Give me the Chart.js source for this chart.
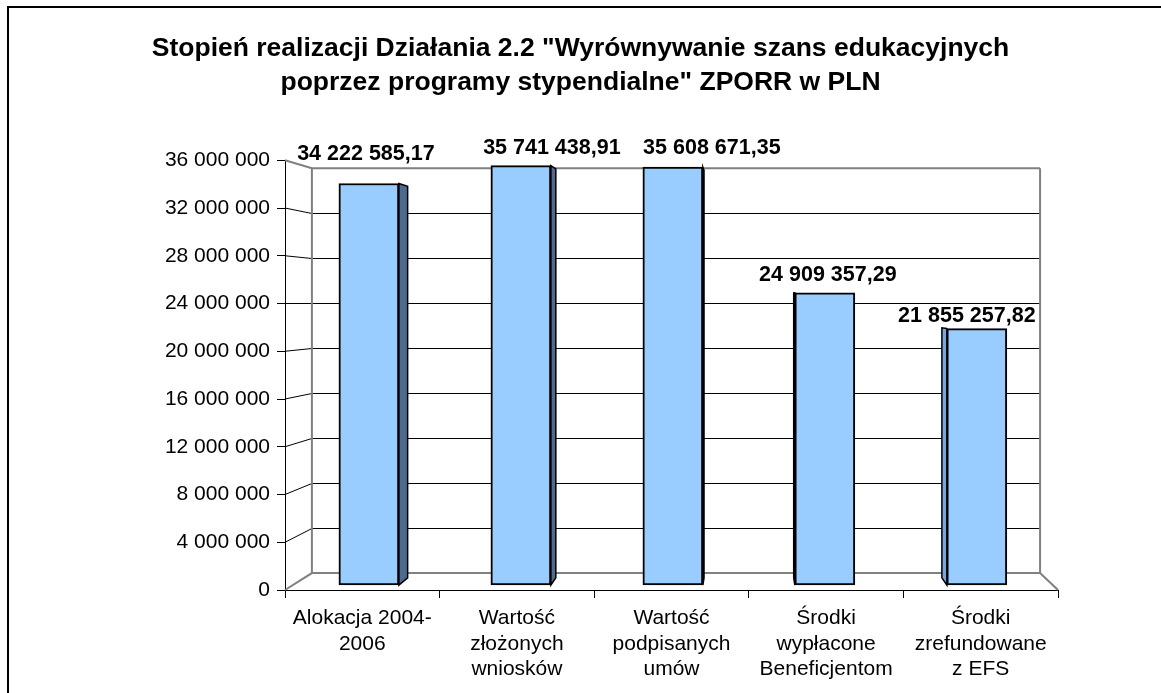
<!DOCTYPE html>
<html>
<head>
<meta charset="utf-8">
<script src="https://cdn.jsdelivr.net/npm/chart.js@4.4.0/dist/chart.umd.min.js"></script>
<style>
  html, body { margin: 0; padding: 0; background: #fff; overflow: hidden; }
  canvas { display: block; }
</style>
</head>
<body>
<canvas id="ChartRealizacja" width="1161" height="693"></canvas>
<script>
var titleLines = [
    'Stopień realizacji Działania 2.2 "Wyrównywanie szans edukacyjnych',
    'poprzez programy stypendialne" ZPORR w PLN'
];
var categories = [
    ['Alokacja 2004-', '2006'],
    ['Wartość', 'złożonych', 'wniosków'],
    ['Wartość', 'podpisanych', 'umów'],
    ['Środki', 'wypłacone', 'Beneficjentom'],
    ['Środki', 'zrefundowane', 'z EFS']
];
var amounts = [34222585.17, 35741438.91, 35608671.35, 24909357.29, 21855257.82];
var yTickValues = [0, 4000000, 8000000, 12000000, 16000000, 20000000, 24000000, 28000000, 32000000, 36000000];

// where Excel left each value label, relative to the top of its bar
var labelNudge = [[-3, -29], [31, -18], [39, -19], [3, -18], [-10, -13]];

function GroupDigits(s) {
    return s.replace(/\B(?=(\d{3})+(?!\d))/g, ' ');
}
function FormatTick(v) {
    return GroupDigits(String(v));
}
function FormatAmount(v) {
    var p = v.toFixed(2).split('.');
    return GroupDigits(p[0]) + ',' + p[1];
}

// fake 3D box: vanishing point as fraction of the plot area, depth ratios
var depth = { vx: 0.6, vy: 0.32, wall: 0.942, bar: 0.975 };
function Project(p, v, r) {
    return v + (p - v) * r;
}
function Crisp(p) {
    return Math.round(p) + 0.5;
}

var boxPlugin = {
    id: 'box3d',
    beforeDatasetsDraw: function (chart) {
        var ctx = chart.ctx, a = chart.chartArea, y = chart.scales.y;
        var vx = a.left + (a.right - a.left) * depth.vx;
        var vy = a.top + (a.bottom - a.top) * depth.vy;
        var bl = Project(a.left, vx, depth.wall), br = Project(a.right, vx, depth.wall);

        ctx.save();
        yTickValues.forEach(function (v, i) {
            var fy = y.getPixelForValue(v), by = Project(fy, vy, depth.wall);
            var edge = i === 0 || i === yTickValues.length - 1;
            ctx.strokeStyle = edge ? '#808080' : '#000';
            ctx.lineWidth = edge ? 2 : 1;
            if (!edge) by = Crisp(by);
            ctx.beginPath();
            ctx.moveTo(a.left, fy);
            ctx.lineTo(bl, by);
            ctx.lineTo(br, by);
            ctx.stroke();
        });

        var bt = Project(a.top, vy, depth.wall), bb = Project(a.bottom, vy, depth.wall);
        ctx.strokeStyle = '#808080';
        ctx.lineWidth = 2;
        ctx.beginPath();
        ctx.moveTo(bl, bt);
        ctx.lineTo(bl, bb);
        ctx.moveTo(br, bt);
        ctx.lineTo(br, bb);
        ctx.lineTo(a.right, a.bottom);
        ctx.stroke();

        // side faces of the bars
        chart.getDatasetMeta(0).data.forEach(function (bar) {
            var half = bar.width / 2;
            var right = bar.x < vx;
            var x0 = right ? bar.x + half : bar.x - half;
            var x1 = Project(x0, vx, depth.bar);
            ctx.beginPath();
            ctx.moveTo(x0, bar.y);
            ctx.lineTo(x1, Project(bar.y, vy, depth.bar));
            ctx.lineTo(x1, Project(bar.base, vy, depth.bar));
            ctx.lineTo(x0, bar.base);
            ctx.closePath();
            ctx.fillStyle = right ? '#4f6a8f' : '#7ba6d8';
            ctx.fill();
            ctx.strokeStyle = '#000';
            ctx.lineWidth = 1.5;
            ctx.stroke();
        });
        ctx.restore();
    },
    afterDatasetsDraw: function (chart) {
        var ctx = chart.ctx;
        ctx.save();
        ctx.font = 'bold 21.5px "Liberation Sans", Arial, sans-serif';
        ctx.fillStyle = '#000';
        ctx.textAlign = 'center';
        ctx.textBaseline = 'middle';
        chart.getDatasetMeta(0).data.forEach(function (bar, i) {
            var n = labelNudge[i];
            ctx.fillText(FormatAmount(amounts[i]), bar.x + n[0], bar.y + n[1]);
        });
        ctx.restore();
    },
    afterDraw: function (chart) {
        var ctx = chart.ctx;
        ctx.save();
        ctx.strokeStyle = '#000';
        ctx.lineWidth = 2;
        ctx.beginPath();
        ctx.moveTo(8, chart.height);
        ctx.lineTo(8, 7);
        ctx.lineTo(chart.width, 7);
        ctx.stroke();
        ctx.restore();
    }
};

Chart.defaults.font.family = '"Liberation Sans", Arial, sans-serif';
Chart.defaults.color = '#000';

var ctx = document.getElementById('ChartRealizacja').getContext('2d');

var graph = new Chart(ctx, {
    type: 'bar',
    data: {
        labels: categories,
        datasets: [
            {
                label: 'Stopień realizacji',
                data: amounts.map(function (v, i) { return { x: i, y: v }; }),
                xAxisID: 'x2',
                yAxisID: 'y2',
                backgroundColor: '#99ccff',
                borderColor: '#000',
                borderWidth: 2,
                borderSkipped: false,
                barThickness: 60
            }
        ]
    },
    plugins: [boxPlugin],
    options: {
        responsive: false,
        animation: false,
        devicePixelRatio: 1,
        layout: { padding: 0 },
        plugins: {
            legend: { display: false },
            tooltip: { enabled: false },
            title: {
                display: true,
                text: titleLines,
                color: '#000',
                font: { size: 26.5, weight: 'bold', lineHeight: 1.25 },
                padding: { top: 32.5, bottom: 61.5 }
            }
        },
        scales: {
            x: {
                type: 'category',
                position: 'bottom',
                offset: true,
                grid: { offset: true, drawOnChartArea: false, tickLength: 8, color: '#000' },
                border: { display: true, color: '#000', width: 1 },
                ticks: { color: '#000', font: { size: 21 }, padding: 8, maxRotation: 0, autoSkip: false },
                afterFit: function (s) { s.height = 103; }
            },
            y: {
                type: 'linear',
                position: 'left',
                min: 0,
                max: 36000000,
                afterBuildTicks: function (s) {
                    s.ticks = yTickValues.map(function (v) { return { value: v }; });
                },
                grid: { drawOnChartArea: false, tickLength: 8, color: '#000' },
                border: { color: '#000', width: 1 },
                ticks: { color: '#000', font: { size: 21 }, padding: 7, callback: FormatTick },
                afterFit: function (s) { s.width = 285; }
            },
            x2: { type: 'linear', display: false, offset: false, min: -0.552, max: 4.534 },
            y2: {
                type: 'linear',
                position: 'right',
                min: -422400,
                max: 36200200,
                grid: { display: false },
                border: { display: false },
                ticks: { display: false },
                afterFit: function (s) { s.width = 103; }
            }
        }
    }
});
</script>
</body>
</html>
